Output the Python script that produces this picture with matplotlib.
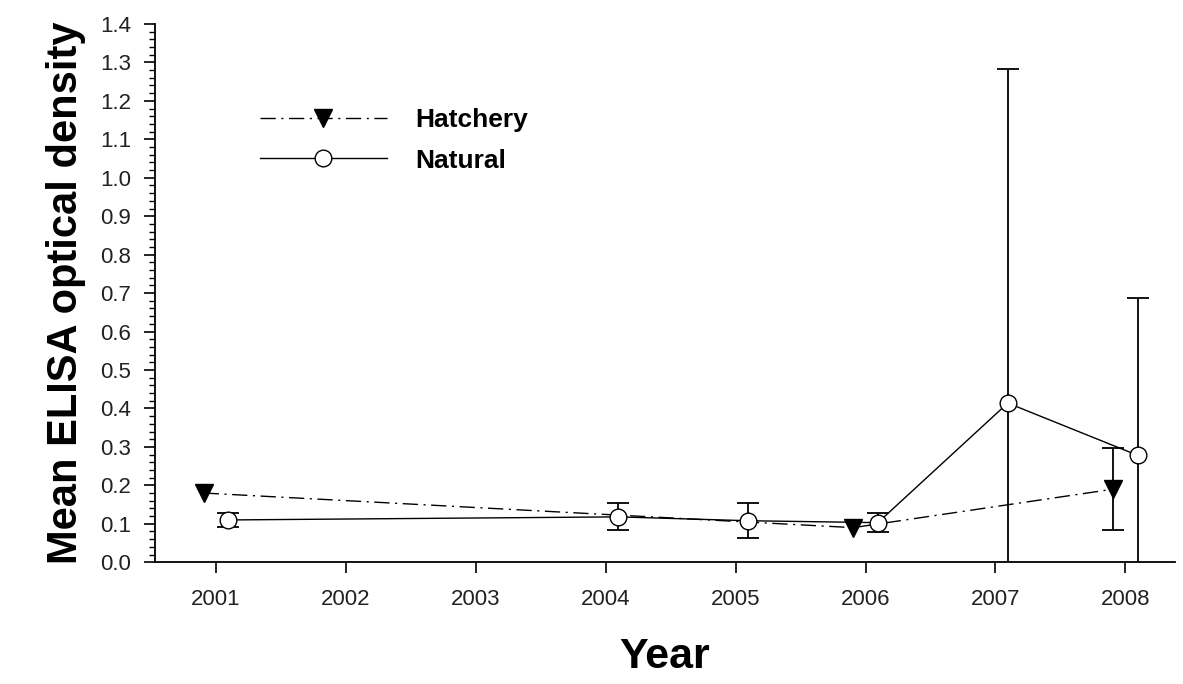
import numpy as np
import matplotlib.pyplot as plt
from matplotlib.ticker import MultipleLocator, FormatStrFormatter

# ---------------------------
# data
# ---------------------------
years = [2001, 2002, 2003, 2004, 2005, 2006, 2007, 2008]

hatchery_years = [2001, 2006, 2008]
hatchery_mean = [0.180, 0.090, 0.190]
hatchery_err = [0.0, 0.0, 0.107]

natural_years = [2001, 2004, 2005, 2006, 2007, 2008]
natural_mean = [0.110, 0.118, 0.108, 0.103, 0.414, 0.278]
natural_err = [0.018, 0.035, 0.045, 0.025, 0.868, 0.410]

offset = 0.095

plt.rcParams['font.family'] = ['Liberation Sans', 'DejaVu Sans']

fig = plt.figure(figsize=(11.83, 6.84), dpi=100)
ax = fig.add_axes([0.131, 0.178, 0.862, 0.787])

hx = np.array(hatchery_years) - offset
nx = np.array(natural_years) + offset
h_mean = np.array(hatchery_mean)
h_err = np.array(hatchery_err)
has_err = h_err > 0

# error bars under the markers (no bar where there is no error)
ax.errorbar(hx[has_err], h_mean[has_err], yerr=h_err[has_err], fmt='none',
            ecolor='black', elinewidth=1.3, capsize=8, capthick=1.3, zorder=2)
ax.errorbar(nx, natural_mean, yerr=natural_err, fmt='none', ecolor='black',
            elinewidth=1.3, capsize=8, capthick=1.3, zorder=2)

ax.plot(hx, h_mean, color='black', lw=1.0, dashes=(11, 4, 1.5, 4),
        marker='v', markersize=13, markerfacecolor='black',
        markeredgecolor='black', label='Hatchery', zorder=3)
ax.plot(nx, natural_mean, color='black', lw=1.0, linestyle='-',
        marker='o', markersize=12, markerfacecolor='white',
        markeredgecolor='black', markeredgewidth=1.0, label='Natural', zorder=4)

ax.set_xlim(2000.53, 2008.38)
ax.set_ylim(0, 1.4)
ax.set_xticks(years)
ax.set_xticklabels([str(y) for y in years])
ax.yaxis.set_major_locator(MultipleLocator(0.1))
ax.yaxis.set_minor_locator(MultipleLocator(0.02))
ax.yaxis.set_major_formatter(FormatStrFormatter('%.1f'))

for s in ['top', 'right']:
    ax.spines[s].set_visible(False)
for s in ['left', 'bottom']:
    ax.spines[s].set_linewidth(1.3)

ax.tick_params(axis='both', which='major', direction='out', length=8,
               width=1.2, labelsize=16, color='black', labelcolor='#222222')
ax.tick_params(axis='y', which='major', pad=9)
ax.tick_params(axis='x', which='major', pad=11)
ax.tick_params(axis='y', which='minor', direction='out', length=4, width=1.0)

ax.set_ylabel('Mean ELISA optical density', fontsize=30, fontweight='bold',
              labelpad=10)
ax.set_xlabel('Year', fontsize=31, fontweight='bold', labelpad=20)

leg = ax.legend(loc='upper left', bbox_to_anchor=(0.090, 0.868),
                frameon=False, fontsize=19, handlelength=4.8,
                handletextpad=1.1, labelspacing=0.62, borderpad=0)
for t in leg.get_texts():
    t.set_fontweight('bold')

fig.savefig('out.png', dpi=100)
